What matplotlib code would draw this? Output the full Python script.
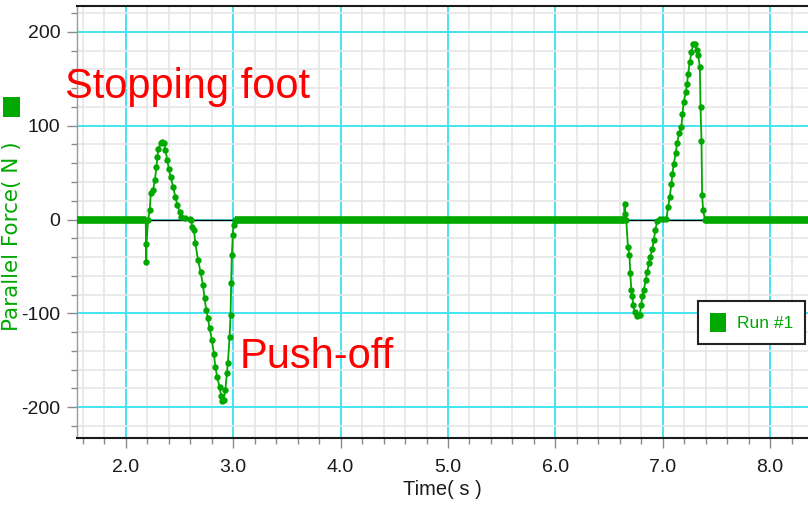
import matplotlib.pyplot as plt
from matplotlib.patches import Patch, Rectangle
from matplotlib.ticker import MultipleLocator, FormatStrFormatter

plt.rcParams['axes.unicode_minus'] = False

green = '#00a800'
narrow = ['Liberation Sans Narrow', 'Liberation Sans', 'DejaVu Sans']

# Run #1 - first step (stopping foot / push-off)
t1 = [2.185, 2.19, 2.192, 2.207, 2.223, 2.232, 2.253, 2.27, 2.285, 2.294, 2.30, 2.325,
      2.34, 2.356, 2.368, 2.387, 2.40, 2.418, 2.44, 2.461, 2.48, 2.50, 2.517, 2.548,
      2.594, 2.61, 2.616, 2.634, 2.647, 2.672, 2.696, 2.718, 2.733, 2.749, 2.764, 2.78,
      2.801, 2.82, 2.833, 2.851, 2.873, 2.889, 2.90, 2.91, 2.926, 2.941, 2.95, 2.966,
      2.975, 2.981, 2.987, 2.996, 3.003, 3.018]
f1 = [0, -45, -26, 0, 10, 28, 31, 42, 56, 67, 75, 81.5,
      83, 81.5, 74, 63, 54, 45, 35, 24, 15.5, 8, 3, 2,
      1, 0, -7.5, -11, -25, -43, -56, -70, -84, -97, -105, -116,
      -128.5, -143, -157, -168, -179, -188, -194, -193, -182, -164, -153, -125.5,
      -102, -68, -38, -16.5, -6, 0]

# Run #1 - second step
t2 = [6.640, 6.645, 6.648, 6.66, 6.676, 6.69, 6.698, 6.707, 6.716, 6.725, 6.738, 6.76,
      6.785, 6.80, 6.81, 6.825, 6.841, 6.857, 6.872, 6.885, 6.904, 6.916, 6.932, 6.947,
      6.972, 7.0, 7.034, 7.05, 7.065, 7.081, 7.09, 7.103, 7.121, 7.134, 7.153, 7.174,
      7.184, 7.196, 7.215, 7.227, 7.237, 7.252, 7.268, 7.283, 7.299, 7.315, 7.33, 7.346,
      7.352, 7.361, 7.367, 7.376, 7.393]
f2 = [0, 17, 6, 0, -29, -38, -57, -75, -82, -91, -98.5, -103,
      -102, -91, -82, -75, -64.5, -55.5, -46.5, -39.5, -31, -22, -11, -2,
      1, 1, 1, 13, 24, 38, 49, 59.5, 70.5, 81.5, 92, 99,
      113, 125.5, 136, 145, 155.5, 168, 178.5, 187.5, 187, 180.5, 175.5, 162.5,
      120, 84, 26, 10, 0]

# stretches where the sensor reads 0
flat_start = [1.54, 3.018, 7.393]
flat_end = [2.185, 6.640, 8.36]

x_ticks = [2.0, 3.0, 4.0, 5.0, 6.0, 7.0, 8.0]
y_ticks = [-200, -100, 0, 100, 200]

fig = plt.figure(figsize=(8.08, 5.11), dpi=100)
ax = fig.add_axes([77/808, 1 - 438/511, 731/808, 432/511])

ax.set_xlim(1.545, 8.353)
ax.set_ylim(-233, 227.7)

ax.xaxis.set_minor_locator(MultipleLocator(0.2))
ax.yaxis.set_minor_locator(MultipleLocator(20))
ax.set_xticks(x_ticks)
ax.set_yticks(y_ticks)
ax.xaxis.set_major_formatter(FormatStrFormatter('%.1f'))

ax.grid(True, which='minor', color='#e6e6e6', lw=1.2, zorder=0)
ax.grid(True, which='major', color='#45e3f0', lw=1.4, zorder=0)
ax.set_axisbelow(True)

ax.axhline(0, color='black', lw=1.0, zorder=2)

for a, b in zip(flat_start, flat_end):
    ax.plot([a, b], [0, 0], color=green, lw=5.5, solid_capstyle='butt', zorder=3)
ax.plot(t1, f1, color=green, lw=1.3, marker='o', ms=4.6, mew=0, zorder=4)
ax.plot(t2, f2, color=green, lw=1.3, marker='o', ms=4.6, mew=0, zorder=4)

for s in ['top', 'bottom']:
    ax.spines[s].set_color('#1a1a1a')
    ax.spines[s].set_linewidth(1.5)
ax.spines['left'].set_color('#9a9a9a')
ax.spines['left'].set_linewidth(1.0)
ax.spines['right'].set_visible(False)

ax.tick_params(which='major', length=7, width=1, color='#8a8a8a', labelcolor='#1a1a1a',
               labelsize=14)
ax.tick_params(which='minor', length=4, width=1, color='#8a8a8a')
ax.tick_params(axis='x', which='major', pad=8)
ax.tick_params(axis='y', which='major', pad=5)
for lab in ax.get_xticklabels() + ax.get_yticklabels():
    lab.set_family(narrow)

ax.set_xlabel('Time( s )', fontsize=14.5, family=narrow, color='#1a1a1a', labelpad=3)

fig.text(12/808, 1 - 236/511, 'Parallel Force( N )', rotation=90, ha='center', va='center',
         fontsize=15.5, color=green, family='DejaVu Sans')
fig.patches.append(Rectangle((3/808, 1 - 117/511), 17/808, 20/511, transform=fig.transFigure,
                             facecolor=green, edgecolor='none'))

ax.text(1.434, 129.6, 'Stopping foot', fontsize=30, color='red', family='Liberation Sans',
        va='baseline', ha='left', clip_on=False, zorder=6)
ax.text(3.058, -158.4, 'Push-off', fontsize=30, color='red', family='Liberation Sans',
        va='baseline', ha='left', clip_on=False, zorder=6)

handle = Patch(facecolor=green, edgecolor='none', label='Run #1')
leg = ax.legend(handles=[handle], loc='upper right', bbox_to_anchor=(0.996, 0.317),
                borderaxespad=0, fancybox=False, framealpha=1, edgecolor='#222222',
                handlelength=0.95, handleheight=1.3, handletextpad=0.6,
                borderpad=0.7, prop={'family': narrow, 'size': 12.5})
leg.get_frame().set_linewidth(1.5)
for txt in leg.get_texts():
    txt.set_color(green)

fig.savefig('out.png', dpi=100)
